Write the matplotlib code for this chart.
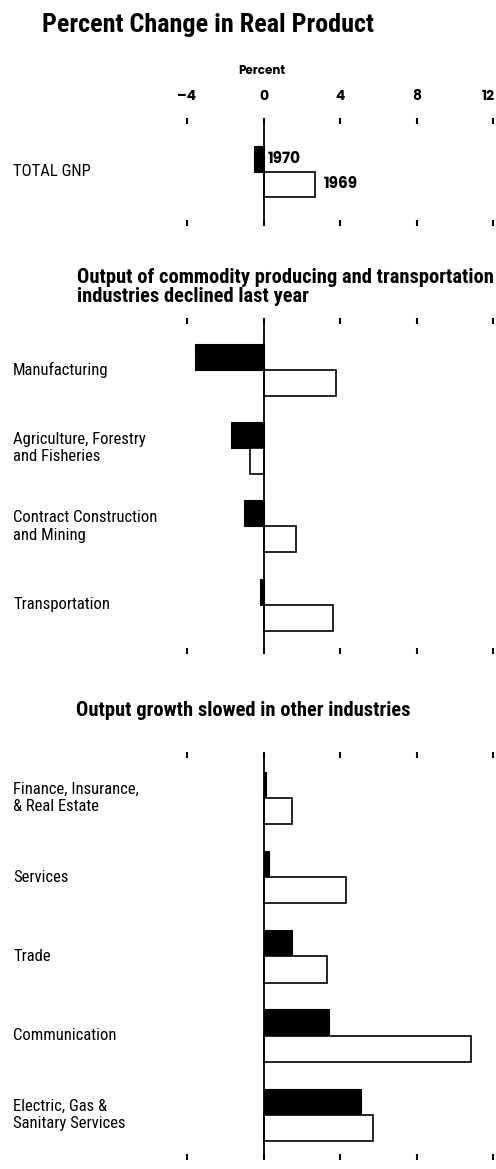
import matplotlib
matplotlib.use("Agg")
import matplotlib.pyplot as plt
from matplotlib.transforms import blended_transform_factory, ScaledTranslation

# ---- data: percent change in real product, 1970 vs 1969 ----
gnp_labels = ["TOTAL GNP"]
gnp_1970 = [-0.5]
gnp_1969 = [2.7]

goods_labels = ["Manufacturing",
                "Agriculture, Forestry\nand Fisheries",
                "Contract Construction\nand Mining",
                "Transportation"]
goods_1970 = [-3.6, -1.7, -1.0, -0.2]
goods_1969 = [3.8, -0.7, 1.7, 3.6]

other_labels = ["Finance, Insurance,\n& Real Estate",
                "Services",
                "Trade",
                "Communication",
                "Electric, Gas &\nSanitary Services"]
other_1970 = [0.1, 0.3, 1.5, 3.4, 5.1]
other_1969 = [1.5, 4.3, 3.3, 10.8, 5.7]

tick_values = [-4, 0, 4, 8, 12]
tick_labels = ["\u20134", "0", "4", "8", "12"]

# ---- layout helpers (pixel space of a 496 x 1169 canvas) ----
W, H, DPI = 496, 1169, 100
fig = plt.figure(figsize=(W / DPI, H / DPI), dpi=DPI)
fig.patch.set_facecolor("white")

NARROW = ["Roboto Condensed", "PT Sans Narrow", "DejaVu Sans"]
GEOM = ["Poppins", "Montserrat", "Jost", "DejaVu Sans"]

X_LEFT, X_RIGHT = 187, 493.5   # pixel positions of -4 and 12


def fx(x):
    return x / W


def fy(y):
    return 1 - y / H


def make_panel(top, bottom, labels, v70, v69, pad_top, pad_bot, show_ticklabels=False):
    ax = fig.add_axes([fx(X_LEFT), fy(bottom), fx(X_RIGHT - X_LEFT), (bottom - top) / H])
    n = len(labels)
    ys = list(range(n))
    h = 0.33
    ax.barh([y - h / 2 for y in ys], v70, height=h, color="black",
            edgecolor="black", linewidth=0.8, zorder=2)
    ax.barh([y + h / 2 for y in ys], v69, height=h, color="white",
            edgecolor="black", linewidth=1.2, zorder=2)
    ax.axvline(0, color="black", linewidth=1.3, zorder=3)
    ax.set_xlim(tick_values[0], tick_values[-1])
    ax.set_ylim(n - 1 + pad_bot, -pad_top)
    for s in ax.spines.values():
        s.set_visible(False)
    ax.set_yticks([])
    ax.set_xticks(tick_values)
    ax.tick_params(axis="x", which="both", bottom=True, top=True, direction="in",
                   length=4.5, width=1.5, color="black",
                   labelbottom=False, labeltop=show_ticklabels, pad=10,
                   labelsize=10)
    if show_ticklabels:
        ax.set_xticklabels(tick_labels, fontfamily=GEOM, fontweight="bold")
        # keep the last label inside the canvas edge
        last = ax.xaxis.get_majorticklabels()[-1]
        last.set_horizontalalignment("right")
        last.set_transform(last.get_transform() +
                           ScaledTranslation(1 / DPI, 0, fig.dpi_scale_trans))
    ax.set_facecolor("none")
    tr = blended_transform_factory(fig.transFigure, ax.transData)
    for y, lab in zip(ys, labels):
        ax.text(fx(13), y, lab, transform=tr, ha="left", va="center",
                fontsize=12, fontfamily=NARROW, linespacing=1.2)
    return ax


# title
fig.text(fx(42), fy(25), "Percent Change in Real Product", ha="left", va="center",
         fontsize=18.8, fontweight="bold", fontfamily=NARROW)
fig.text(fx(262), fy(71), "Percent", ha="center", va="center",
         fontsize=8.5, fontweight="bold", fontfamily=GEOM)

ax1 = make_panel(118, 226, gnp_labels, gnp_1970, gnp_1969, 0.69, 0.70,
                 show_ticklabels=True)
ax1.annotate("1970", xy=(0, -0.165), xytext=(3, 0), textcoords="offset points",
             ha="left", va="center", fontsize=11, fontweight="bold", fontfamily=GEOM)
ax1.annotate("1969", xy=(gnp_1969[0], 0.165), xytext=(6, 0), textcoords="offset points",
             ha="left", va="center", fontsize=11, fontweight="bold", fontfamily=GEOM)

fig.text(fx(77), fy(287), "Output of commodity producing and transportation\n"
         "industries declined last year", ha="left", va="center",
         fontsize=14.8, fontweight="bold", fontfamily=NARROW, linespacing=1.0)
make_panel(318, 654, goods_labels, goods_1970, goods_1969, 0.66, 0.63)

fig.text(fx(76), fy(710), "Output growth slowed in other industries", ha="left",
         va="center", fontsize=14.8, fontweight="bold", fontfamily=NARROW)
make_panel(752, 1160, other_labels, other_1970, other_1969, 0.58, 0.57)

fig.savefig("out.png", dpi=DPI, facecolor="white")
